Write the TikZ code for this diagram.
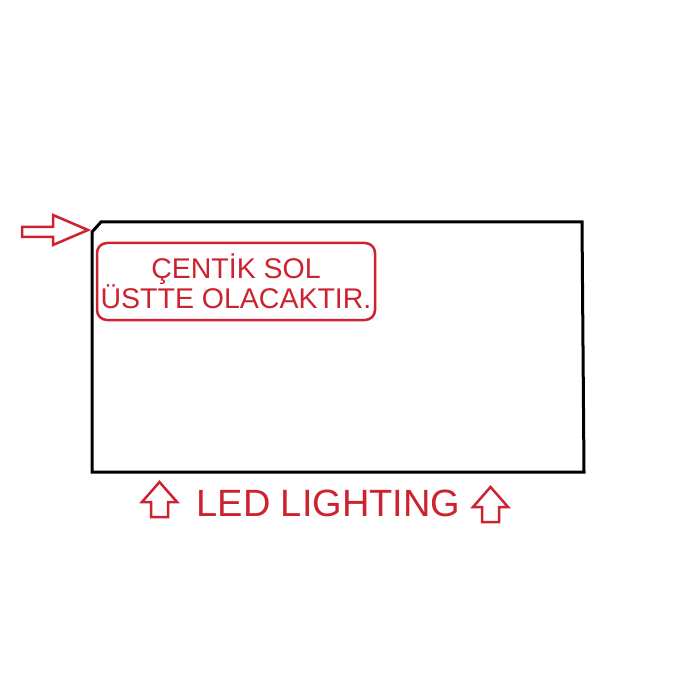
\documentclass[tikz,border=0pt]{standalone}
\usepackage{fontspec}
\setmainfont{Liberation Sans}
\usetikzlibrary{positioning}
\definecolor{notered}{RGB}{205,35,48}
\tikzstyle{note} = [rectangle, rounded corners=10pt, minimum width=278pt, minimum height=77pt, text centered, align=center, draw=notered, line width=2.5pt, text=notered, inner sep=0pt]
\tikzstyle{board} = [draw=black, line width=3pt, line join=miter]
\tikzstyle{redarrow} = [draw=notered, line width=2.5pt, fill=white, line join=miter]

\begin{document}
\begin{tikzpicture}[x=1pt, y=-1pt, node distance=10pt]
\useasboundingbox (0,0) rectangle (700,700);

% board outline with the notch at top left
\draw[board] (92,232) -- (101,222) -- (582,222) -- (584,472) -- (92,472) -- cycle;
\coordinate (notch) at (92,228);

% arrow to the notch
\draw[redarrow] (22,227) -- (53,227) -- (53,215) -- (88,230) -- (53,245) -- (53,237) -- (22,237) -- cycle;

\node (note) [note] at (236,281.5) {\fontsize{28.5}{32}\selectfont ÇENTİK SOL\\[-1pt]\fontsize{28.5}{32}\selectfont ÜSTTE OLACAKTIR.};

\node (led) [text=notered, inner sep=0pt] at (328.5,503) {\fontsize{38}{44}\selectfont LED LIGHTING};

% up arrows under the board
\foreach \x/\y in {159.5/482, 490.5/487}
  \draw[redarrow] (\x,\y) -- (\x+17.5,\y+20) -- (\x+8.5,\y+20) -- (\x+8.5,\y+35) -- (\x-8.5,\y+35) -- (\x-8.5,\y+20) -- (\x-17.5,\y+20) -- cycle;
\end{tikzpicture}
\end{document}
